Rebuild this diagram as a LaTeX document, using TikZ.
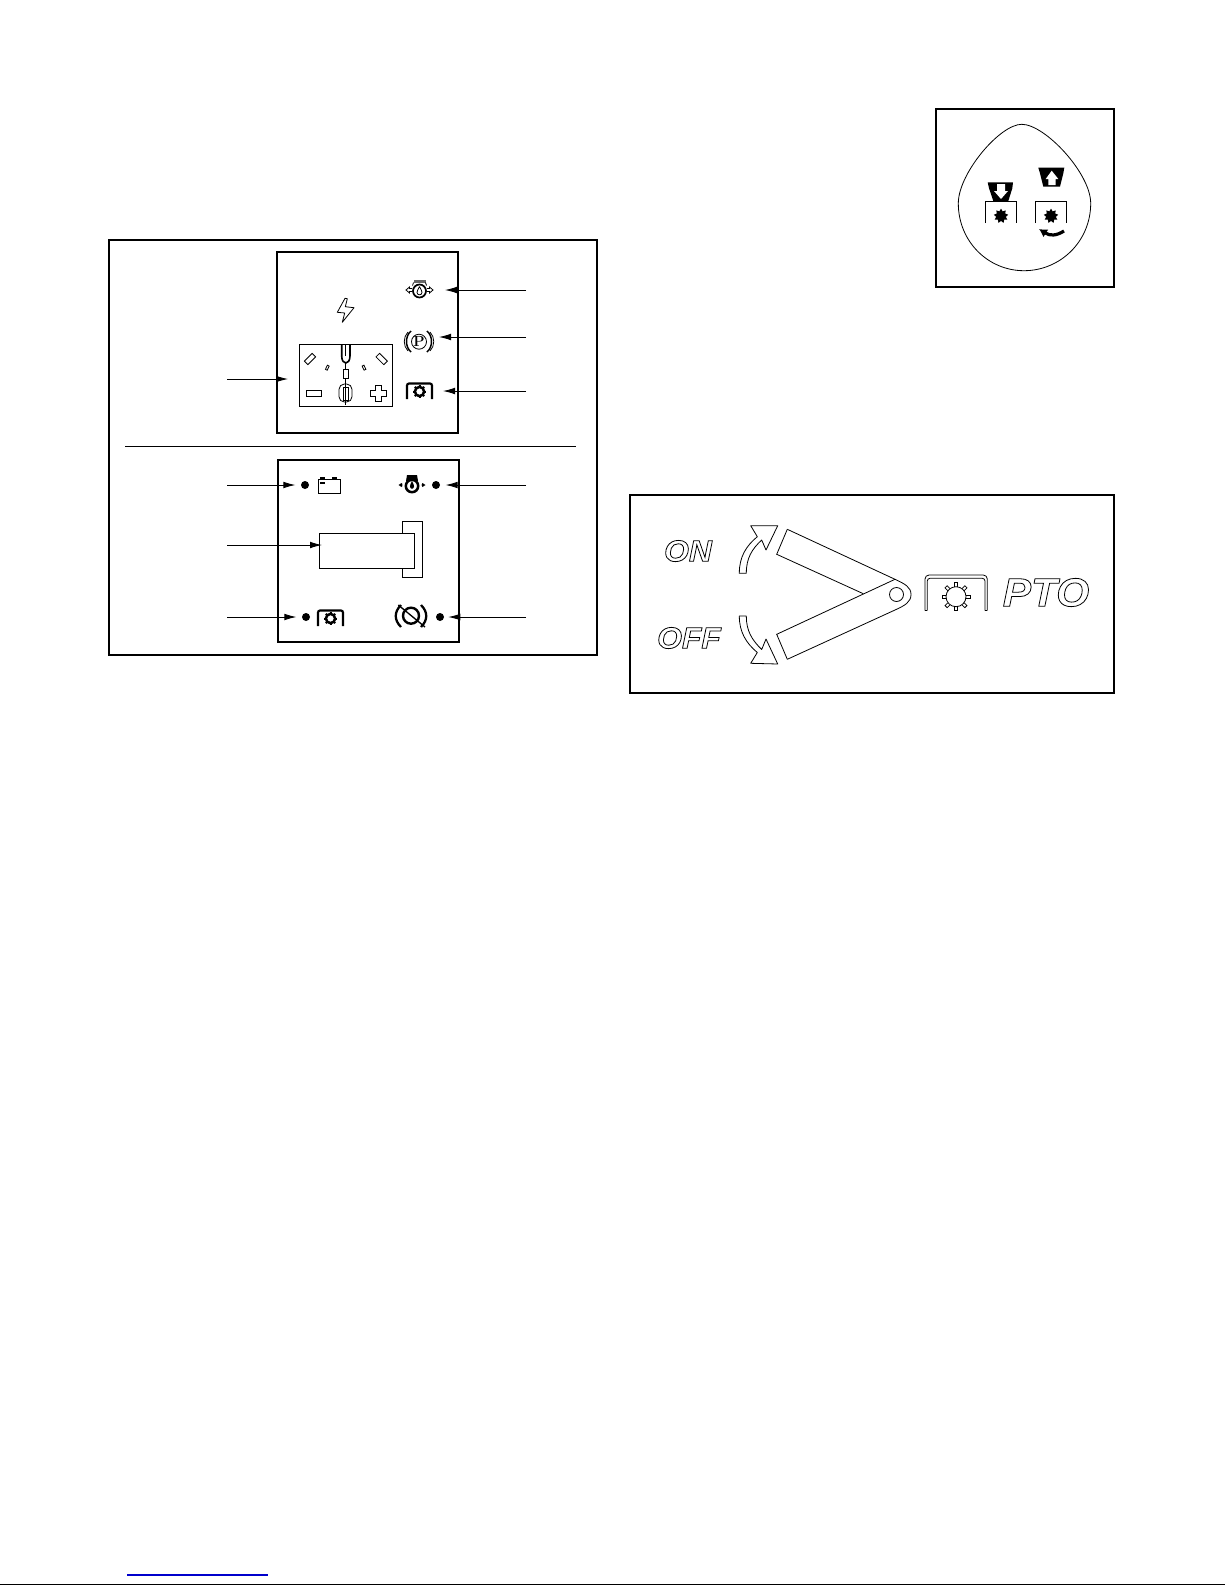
\documentclass[tikz,border=0pt]{standalone}
\usepackage{fontspec}
\usepackage{xcolor}
\usetikzlibrary{arrows, arrows.meta}
\usetikzlibrary{shapes.geometric}
\usetikzlibrary{calc}
\newfontfamily\ptofont[FakeStretch=1.06]{Liberation Sans}
\newcommand{\outlined}[1]{\special{pdf:code 1 Tr 0.6 w}#1\special{pdf:code 0 Tr}}
\tikzset{
	panel/.style={line width=1.5pt},
	leader/.style={line width=0.65pt,-{Latex[length=9pt,width=5pt]}},
	thin line/.style={line width=0.6pt},
	led/.style={circle,fill=black,inner sep=0pt,minimum size=6pt},
	spark/.style={star,star points=9,star point ratio=1.5,fill=black,inner sep=0pt,minimum size=11pt},
	ptolabel/.style={inner sep=0pt,font=\ptofont\bfseries\itshape},
	ptoicon/.pic={
		\draw[line width=1.6pt,rounded corners=1.5] (-12.5,8) -- (-12.5,-7.5) -- (12.5,-7.5) -- (12.5,8);
		\draw[line width=1.9pt] (0,0.5) circle (4.6);
		\foreach \a in {0,45,...,315} {\draw[line width=1.5pt] ($(0,0.5)+(\a:4.6)$) -- ($(0,0.5)+(\a:6.6)$);}
	},
}
\begin{document}
\begin{tikzpicture}[x=0.75pt,y=0.75pt,yscale=-1,xscale=1]
	\useasboundingbox (0,0) rectangle (1225,1585);
	
	%Frames
	\draw[panel] (109,239.5) rectangle (597,655);
	\draw[panel] (277,252) rectangle (458,433);
	\draw[panel] (278,460) rectangle (459,642);
	\draw[panel] (936,109) rectangle (1114,287);
	\draw[panel] (630,495) rectangle (1114,693);
	\draw[thin line] (125,446) -- (576,446);
	
	%Lightning
	\draw[thin line,line join=round] (345,298.3) -- (347.3,298.7) -- (345.3,306.7) -- (354,307.7) -- (342.3,322.3) -- (344.7,313) -- (337.3,312.3) -- cycle;
	
	%Gauge
	\draw[thin line] (299,344) rectangle (392.5,406);
	\draw[line width=1.2pt] (341.7,344) -- (341.7,356) .. controls (341.7,361) and (344,363) .. (345.8,363) .. controls (347.6,363) and (350,361) .. (350,356) -- (350,344);
	\draw[thin line] (345.8,344) -- (345.8,356);
	\draw[thin line] (345.8,363) -- (345.8,405);
	\draw[thin line,fill=white] (343.3,369) rectangle (348.3,378);
	\draw[thin line,fill=white,rounded corners=4] (339,384) rectangle (352,402);
	\draw[thin line,fill=white] (343.3,387) rectangle (348.3,400);
	\draw[thin line] (345.8,384) -- (345.8,405);
	\draw[thin line,rotate around={-45:(310,359)}] (304.5,356.5) rectangle (315.5,361.5);
	\draw[thin line,rotate around={45:(381.7,359)}] (376.2,356.5) rectangle (387.2,361.5);
	\draw[thin line,rotate around={-65:(327.3,367.7)}] (325,366.7) rectangle (329.6,368.7);
	\draw[thin line,rotate around={65:(364,367.7)}] (361.7,366.7) rectangle (366.3,368.7);
	\draw[thin line] (306,390) rectangle (321,396);
	\draw[thin line] (375.5,385.5) -- (381,385.5) -- (381,390.8) -- (386,390.8) -- (386,396) -- (381,396) -- (381,401) -- (375.5,401) -- (375.5,396) -- (370.5,396) -- (370.5,390.8) -- (375.5,390.8) -- cycle;
	
	%Oil upper
	\draw[line width=1.3pt] (419.5,291) circle (6.5);
	\fill[gray!80!black] (413.5,279.5) rectangle (425.5,282.5);
	\draw[thin line] (413.5,282.5) -- (412.5,285.5);
	\draw[thin line] (425.5,282.5) -- (426.5,285.5);
	\draw[thin line] (419.5,286.5) .. controls (418,289.5) and (417,291) .. (417,292.5) .. controls (417,295.5) and (422,295.5) .. (422,292.5) .. controls (422,291) and (421,289.5) .. (419.5,286.5);
	\draw[thin line] (412,288.5) -- (409.5,288.5) -- (409.5,287) -- (406,290) -- (409.5,293) -- (409.5,291.5) -- (412,291.5);
	\draw[thin line] (427,288.5) -- (429.5,288.5) -- (429.5,287) -- (433,290) -- (429.5,293) -- (429.5,291.5) -- (427,291.5);
	
	%Park brake
	\draw[thin line] (419,341.7) circle (7.5);
	\node[inner sep=0pt,font=\bfseries\fontsize{11}{11}\selectfont] (parkletter) at (419,341.7) {P};
	\draw[line width=1.1pt] (411,331) .. controls (405,336) and (405,347) .. (411,352);
	\draw[line width=1.1pt] (427,331) .. controls (433,336) and (433,347) .. (427,352);
	\draw[thin line] (408,332) .. controls (403,337) and (403,346) .. (408,351);
	\draw[thin line] (430,332) .. controls (435,337) and (435,346) .. (430,351);
	
	%PTO icons
	\pic[transform shape] at (419.5,391) {ptoicon};
	\pic[transform shape] at (330.5,618) {ptoicon};
	
	%Lower panel
	\node[led] (oilled) at (436,485) {};
	\node[led] (batled) at (305,485) {};
	\node[led] (ptoled) at (306,617) {};
	\node[led] (parkled) at (440,617) {};
	
	\draw[thin line] (318,479) rectangle (340,493);
	\fill (320,476.5) rectangle (325,479);
	\fill (332,476.5) rectangle (337,479);
	\fill (320,482.3) rectangle (325,483.8);
	
	\draw[line width=1.9pt] (412,486) circle (6.2);
	\fill (407,475) -- (417,475) -- (418,481) -- (406,481) -- cycle;
	\fill (412,481) .. controls (410.5,484) and (410,485) .. (410,486.5) .. controls (410,489.5) and (414,489.5) .. (414,486.5) .. controls (414,485) and (413.5,484) .. (412,481) -- cycle;
	\fill (398.5,485) -- (402,483) -- (402,487) -- cycle;
	\fill (425.5,485) -- (422,483) -- (422,487) -- cycle;
	\fill (401,485) circle (1.6);
	\fill (423,485) circle (1.6);
	
	\draw[thin line] (319,533) rectangle (414,568);
	\draw[thin line] (402,533) -- (402,521) -- (422,521) -- (422,577) -- (402,577) -- (402,568);
	
	\draw[line width=1.8pt] (411,615.7) circle (8);
	\draw[line width=1.7pt] (401,605) .. controls (394,612) and (394,620) .. (401,627);
	\draw[line width=1.7pt] (421,605) .. controls (428,612) and (428,620) .. (421,627);
	\draw[line width=1pt] (398.3,605) -- (425,627);
	
	%Leaders
	\coordinate (oiltail) at (526,290);
	\coordinate (oiltip) at (445,290);
	\coordinate (parktail) at (526,337);
	\coordinate (parktip) at (439,337);
	\coordinate (ptotail) at (526,391);
	\coordinate (ptotip) at (443,391);
	\coordinate (gaugetail) at (227,379);
	\coordinate (gaugetip) at (288,379);
	\coordinate (battail) at (227,485);
	\coordinate (ledtail) at (526,485);
	\coordinate (metertail) at (227,545);
	\coordinate (metertip) at (322,545);
	\coordinate (offtail) at (227,617);
	\coordinate (brktail) at (526,617);
	\draw[leader] (oiltail) -- (oiltip);
	\draw[leader] (parktail) -- (parktip);
	\draw[leader] (ptotail) -- (ptotip);
	\draw[leader] (gaugetail) -- (gaugetip);
	\draw[leader] (metertail) -- (metertip);
	\draw[leader,shorten >=4pt] (battail) -- (batled);
	\draw[leader,shorten >=4pt] (ledtail) -- (oilled);
	\draw[leader,shorten >=4pt] (offtail) -- (ptoled);
	\draw[leader,shorten >=3pt] (brktail) -- (parkled);
	
	%Shape: Teardrop
	\draw[thin line] (1021.7,124.3) .. controls (1000,124.3) and (958.3,173.3) .. (958.3,203.3) .. controls (958.3,241.7) and (988.3,270.7) .. (1024,270.7) .. controls (1060,270.7) and (1090.7,241.7) .. (1090.7,203.3) .. controls (1090.7,173.3) and (1045,124.3) .. (1021.7,124.3) -- cycle;
	\draw[thin line] (985,223) -- (985,201) -- (1016,201) -- (1016,223);
	\draw[thin line] (1035,223) -- (1035,201) -- (1066,201) -- (1066,223);
	\node[spark] (sparkdown) at (1001,216) {};
	\node[spark] (sparkup) at (1051,216) {};
	\fill (987.7,182.3) -- (1013,182.3) -- (1012.3,188.3) -- (1008.3,201) -- (993.3,201) -- (989,188.3) -- cycle;
	\fill[white] (997,184) -- (1005,184) -- (1005,191) -- (1008,191) -- (1001,199) -- (994,191) -- (997,191) -- cycle;
	\fill (1038.3,167.7) -- (1064.3,167.7) -- (1063.3,173.3) -- (1060,186.7) -- (1043.3,186.7) -- (1040,173.3) -- cycle;
	\fill[white] (1051.7,170.7) -- (1058.3,179) -- (1055.7,179) -- (1055.7,185) -- (1048.3,185) -- (1048.3,179) -- (1045.7,179) -- cycle;
	\draw[line width=2.4pt,-{Latex[length=6pt,width=7pt]}] (1064,231) .. controls (1056,236) and (1050,236) .. (1039,229);
	
	%Lever
	\draw[thin line] (787.3,529.3) -- (776.7,554.3) -- (863.3,593.7);
	\draw[thin line] (787.3,659.3) -- (776.7,634.3) -- (895,579.3);
	\draw[thin line] (787.3,529.3) -- (895,579.3) .. controls (905,584) and (911,587) .. (911,594.5) .. controls (911,602) and (905,605.5) .. (895,610) -- (787.3,659.3);
	\draw[thin line] (896.5,594.5) circle (7);
	
	%Shape: ON and OFF arrows
	\draw[thin line,line join=round] (739.3,573.3) -- (746.3,573.3) .. controls (746.3,558) and (752,549) .. (761.7,540) -- (766,550) -- (777.7,525.7) -- (750.7,525.7) -- (757.3,536.7) .. controls (746,546) and (739.3,557) .. (739.3,573.3) -- cycle;
	\draw[thin line,line join=round] (739.3,616) -- (746.3,616) .. controls (746.3,631) and (752,640) .. (761.7,649.5) -- (766,639) -- (777.7,664) -- (750.7,663.3) -- (757.3,652.5) .. controls (746,643) and (739.3,632) .. (739.3,616) -- cycle;
	
	%PTO symbol
	\draw[thin line,rounded corners=3] (925,610.7) -- (925,575) -- (987.3,575) -- (987.3,610.7);
	\draw[thin line,rounded corners=2] (927.3,610.7) -- (927.3,578.3) -- (985,578.3) -- (985,610.7);
	\draw[thin line] (925,610.7) -- (927.3,610.7);
	\draw[thin line] (985,610.7) -- (987.3,610.7);
	\draw[thin line] (956,596.7) circle (10);
	\foreach \a in {0,45,...,315} {
		\draw[thin line,shift={(956,596.7)},rotate=\a] (10,-1.5) -- (14,-1.5) -- (14,1.5) -- (10,1.5);
	}
	
	%Labels
	\node[ptolabel,font=\ptofont\bfseries\itshape\fontsize{22.5}{22.5}\selectfont] (onlabel) at (688,551) {\outlined{ON}};
	\node[ptolabel,font=\ptofont\bfseries\itshape\fontsize{22.5}{22.5}\selectfont] (offlabel) at (689,638) {\outlined{OFF}};
	\node[ptolabel,font=\ptofont\bfseries\itshape\fontsize{30}{30}\selectfont] (ptolabel) at (1046,592.5) {\outlined{PTO}};
	
	%Page edge
	\draw[blue!80!black,line width=0.8pt] (127,1575) -- (268,1575);
	\draw[line width=1.5pt] (0,1584.5) -- (1225,1584.5);
	
\end{tikzpicture}
\end{document}
